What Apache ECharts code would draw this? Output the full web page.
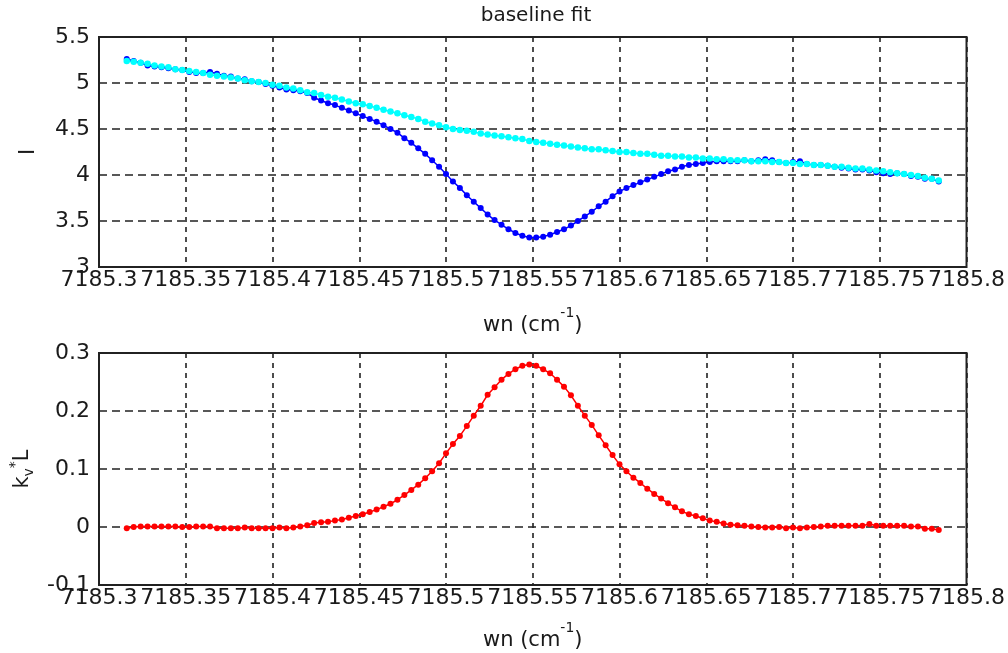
<!DOCTYPE html>
<html>
<head>
<meta charset="utf-8">
<script src="https://cdn.jsdelivr.net/npm/echarts@6/dist/echarts.min.js"></script>
<style>
    html, body { margin: 0; padding: 0; background: #fff; }
    #chart { width: 1008px; height: 653px; }
</style>
</head>
<body>
<div id="chart"></div>
<script>
// wavenumber grid (cm-1)
const wn = [
    7185.316, 7185.320, 7185.324, 7185.328, 7185.332, 7185.336, 7185.340, 7185.344, 7185.348, 7185.352,
    7185.356, 7185.360, 7185.364, 7185.368, 7185.372, 7185.376, 7185.380, 7185.384, 7185.388, 7185.392,
    7185.396, 7185.400, 7185.404, 7185.408, 7185.412, 7185.416, 7185.420, 7185.424, 7185.428, 7185.432,
    7185.436, 7185.440, 7185.444, 7185.448, 7185.452, 7185.456, 7185.460, 7185.464, 7185.468, 7185.472,
    7185.476, 7185.480, 7185.484, 7185.488, 7185.492, 7185.496, 7185.500, 7185.504, 7185.508, 7185.512,
    7185.516, 7185.520, 7185.524, 7185.528, 7185.532, 7185.536, 7185.540, 7185.544, 7185.548, 7185.552,
    7185.556, 7185.560, 7185.564, 7185.568, 7185.572, 7185.576, 7185.580, 7185.584, 7185.588, 7185.592,
    7185.596, 7185.600, 7185.604, 7185.608, 7185.612, 7185.616, 7185.620, 7185.624, 7185.628, 7185.632,
    7185.636, 7185.640, 7185.644, 7185.648, 7185.652, 7185.656, 7185.660, 7185.664, 7185.668, 7185.672,
    7185.676, 7185.680, 7185.684, 7185.688, 7185.692, 7185.696, 7185.700, 7185.704, 7185.708, 7185.712,
    7185.716, 7185.720, 7185.724, 7185.728, 7185.732, 7185.736, 7185.740, 7185.744, 7185.748, 7185.752,
    7185.756, 7185.760, 7185.764, 7185.768, 7185.772, 7185.776, 7185.780, 7185.784
];

// measured signal I (blue)
const signal = [
    5.26, 5.24, 5.22, 5.19, 5.18, 5.17, 5.16, 5.15, 5.14, 5.12,
    5.11, 5.11, 5.12, 5.10, 5.08, 5.07, 5.05, 5.04, 5.02, 5.01,
    4.99, 4.97, 4.95, 4.93, 4.92, 4.91, 4.89, 4.84, 4.81, 4.78,
    4.76, 4.73, 4.70, 4.67, 4.64, 4.61, 4.58, 4.54, 4.50, 4.46,
    4.40, 4.35, 4.29, 4.23, 4.16, 4.09, 4.01, 3.93, 3.86, 3.78,
    3.71, 3.64, 3.57, 3.51, 3.46, 3.41, 3.37, 3.34, 3.32, 3.32,
    3.33, 3.35, 3.38, 3.41, 3.45, 3.50, 3.55, 3.60, 3.66, 3.71,
    3.77, 3.82, 3.86, 3.89, 3.92, 3.95, 3.98, 4.01, 4.04, 4.06,
    4.09, 4.11, 4.12, 4.13, 4.14, 4.15, 4.15, 4.15, 4.15, 4.16,
    4.15, 4.16, 4.17, 4.16, 4.14, 4.13, 4.14, 4.15, 4.12, 4.11,
    4.11, 4.10, 4.09, 4.08, 4.07, 4.06, 4.06, 4.05, 4.03, 4.02,
    4.01, 4.02, 4.01, 3.99, 3.98, 3.96, 3.96, 3.93
];

// fitted baseline (cyan)
const baseline = [
    5.24, 5.23, 5.22, 5.21, 5.19, 5.18, 5.17, 5.15, 5.14, 5.13,
    5.12, 5.11, 5.09, 5.08, 5.07, 5.06, 5.05, 5.03, 5.02, 5.01,
    5.00, 4.98, 4.97, 4.95, 4.94, 4.92, 4.90, 4.89, 4.87, 4.85,
    4.84, 4.82, 4.80, 4.78, 4.77, 4.75, 4.73, 4.71, 4.69, 4.67,
    4.65, 4.63, 4.61, 4.58, 4.56, 4.54, 4.52, 4.50, 4.49, 4.48,
    4.47, 4.45, 4.44, 4.43, 4.42, 4.41, 4.40, 4.39, 4.37, 4.36,
    4.35, 4.34, 4.33, 4.32, 4.31, 4.30, 4.29, 4.28, 4.28, 4.27,
    4.26, 4.25, 4.25, 4.24, 4.23, 4.23, 4.22, 4.21, 4.21, 4.20,
    4.20, 4.19, 4.19, 4.18, 4.18, 4.17, 4.17, 4.16, 4.16, 4.16,
    4.15, 4.15, 4.15, 4.14, 4.14, 4.13, 4.13, 4.12, 4.12, 4.11,
    4.11, 4.10, 4.09, 4.09, 4.08, 4.07, 4.07, 4.06, 4.05, 4.04,
    4.03, 4.02, 4.01, 4.00, 3.99, 3.97, 3.96, 3.94
];

// absorbance k_v*L (red)
const absorbance = [
    -0.002, 0.000, 0.001, 0.001, 0.001, 0.001, 0.001, 0.001, 0.000, 0.000,
    0.001, 0.001, 0.001, -0.002, -0.002, -0.002, -0.002, -0.001, -0.002, -0.002,
    -0.002, -0.002, -0.001, -0.002, -0.001, 0.001, 0.003, 0.007, 0.008, 0.009,
    0.011, 0.013, 0.016, 0.019, 0.022, 0.026, 0.030, 0.035, 0.040, 0.047,
    0.055, 0.064, 0.073, 0.084, 0.096, 0.110, 0.127, 0.143, 0.157, 0.174,
    0.192, 0.209, 0.228, 0.241, 0.254, 0.264, 0.272, 0.278, 0.280, 0.278,
    0.272, 0.265, 0.254, 0.242, 0.227, 0.209, 0.192, 0.176, 0.158, 0.141,
    0.124, 0.108, 0.096, 0.085, 0.076, 0.066, 0.057, 0.049, 0.041, 0.034,
    0.027, 0.022, 0.019, 0.015, 0.011, 0.009, 0.006, 0.004, 0.003, 0.002,
    0.001, 0.000, -0.001, -0.001, 0.000, -0.002, -0.001, -0.002, -0.001, 0.000,
    0.001, 0.002, 0.002, 0.002, 0.002, 0.002, 0.002, 0.005, 0.002, 0.002,
    0.002, 0.002, 0.002, 0.001, 0.001, -0.003, -0.003, -0.005
];

const FONT = 'DejaVu Sans';
const TXT = '#1a1a1a';

const pairs = arr => wn.map((x, i) => [x, arr[i]]);

const gridLine = (dash) => ({
    show: true,
    lineStyle: { color: '#222', width: 1.6, type: dash }
});

const xAxisBase = (gridIndex, gap) => ({
    type: 'value',
    gridIndex: gridIndex,
    min: 7185.3,
    max: 7185.8,
    interval: 0.05,
    axisLine: { show: false },
    axisTick: { show: false },
    axisLabel: {
        fontFamily: FONT, fontSize: 22, color: TXT, margin: 2,
        formatter: v => String(parseFloat(v.toFixed(2)))
    },
    splitLine: gridLine([5, 5]),
    name: '{n|wn (cm}{sup|-1}{n|)}',
    nameLocation: 'middle',
    nameGap: gap,
    nameTextStyle: {
        rich: {
            n: { fontFamily: FONT, fontSize: 21, color: TXT, lineHeight: 30, verticalAlign: 'bottom' },
            sup: { fontFamily: FONT, fontSize: 14, color: TXT, lineHeight: 14, verticalAlign: 'top' }
        }
    }
});

const yAxisBase = (gridIndex, min, max, interval) => ({
    type: 'value',
    gridIndex: gridIndex,
    min: min,
    max: max,
    interval: interval,
    axisLine: { show: false },
    axisTick: { show: false },
    axisLabel: { fontFamily: FONT, fontSize: 22, color: TXT, margin: 9 },
    splitLine: gridLine([8, 5]),
    nameLocation: 'middle'
});

const chart = echarts.init(document.getElementById('chart'));

const option = {
    animation: false,
    backgroundColor: '#fff',
    title: {
        text: 'baseline fit',
        left: 531,
        top: 1,
        textAlign: 'center',
        textStyle: { fontFamily: FONT, fontSize: 20, fontWeight: 'normal', color: TXT }
    },
    grid: [
        { left: 99, top: 37, width: 868, height: 230, show: true, borderColor: '#222', borderWidth: 2, backgroundColor: '#fff' },
        { left: 99, top: 353, width: 868, height: 232, show: true, borderColor: '#222', borderWidth: 2, backgroundColor: '#fff' }
    ],
    xAxis: [xAxisBase(0, 39), xAxisBase(1, 36)],
    yAxis: [
        Object.assign(yAxisBase(0, 3, 5.5, 0.5), {
            name: 'I',
            nameGap: 60,
            nameTextStyle: { fontFamily: FONT, fontSize: 21, color: TXT }
        }),
        Object.assign(yAxisBase(1, -0.1, 0.3, 0.1), {
            name: '{n|k}{sub|v}{sup|*}{n|L}',
            nameGap: 54,
            nameTextStyle: {
                rich: {
                    n: { fontFamily: FONT, fontSize: 21, color: TXT, lineHeight: 28, verticalAlign: 'middle' },
                    sub: { fontFamily: FONT, fontSize: 14, color: TXT, lineHeight: 10, verticalAlign: 'bottom' },
                    sup: { fontFamily: FONT, fontSize: 14, color: TXT, lineHeight: 12, verticalAlign: 'top' }
                }
            }
        })
    ],
    series: [
        {
            name: 'I',
            type: 'line',
            xAxisIndex: 0, yAxisIndex: 0,
            data: pairs(signal),
            symbol: 'circle', symbolSize: 6,
            itemStyle: { color: '#0000ff' },
            lineStyle: { color: '#0000ff', width: 1.5 }
        },
        {
            name: 'baseline',
            type: 'line',
            xAxisIndex: 0, yAxisIndex: 0,
            data: pairs(baseline),
            symbol: 'circle', symbolSize: 6.5,
            itemStyle: { color: '#00ffff' },
            lineStyle: { color: '#00ffff', width: 1.5 }
        },
        {
            name: 'kL',
            type: 'line',
            xAxisIndex: 1, yAxisIndex: 1,
            data: pairs(absorbance),
            symbol: 'circle', symbolSize: 6,
            itemStyle: { color: '#ff0000' },
            lineStyle: { color: '#ff0000', width: 1.5 }
        }
    ]
};

chart.setOption(option);
</script>
</body>
</html>
